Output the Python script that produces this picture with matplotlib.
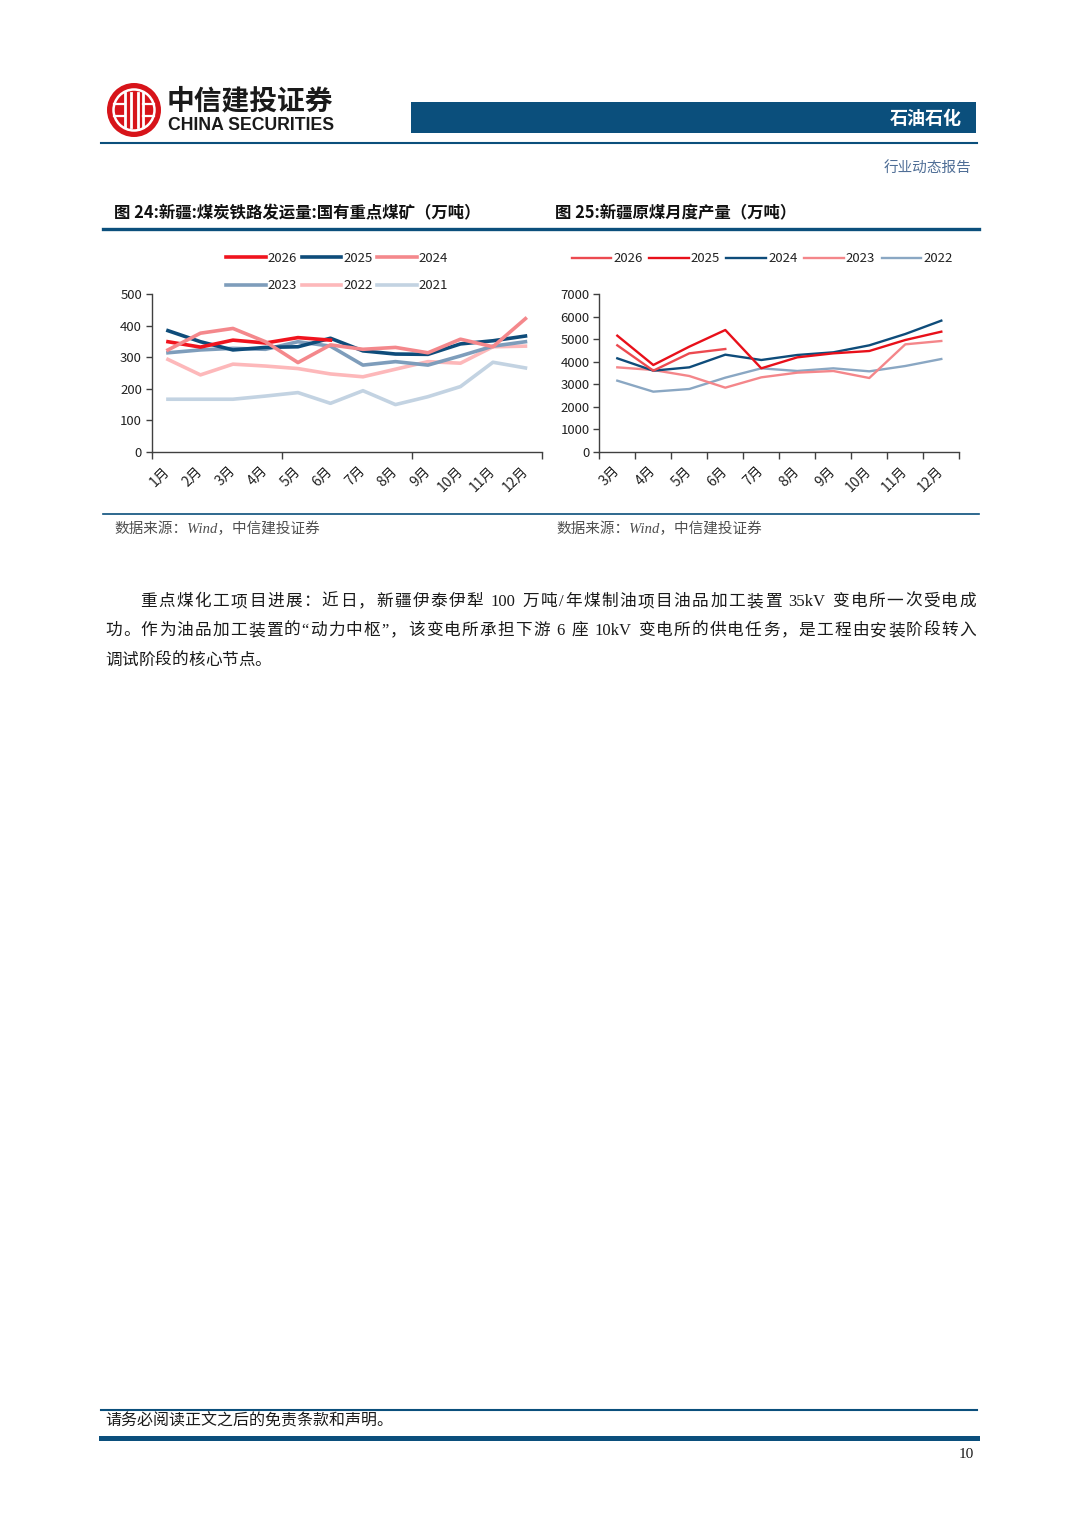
import re
import matplotlib
matplotlib.use("Agg")
import matplotlib.pyplot as plt
from matplotlib.patches import Circle, Rectangle
from matplotlib.lines import Line2D

plt.rcParams['font.family'] = ['Noto Sans CJK SC', 'DejaVu Sans']

# ---- data: fig 24, rail shipments (万吨) ----
months_24 = ['1月', '2月', '3月', '4月', '5月', '6月', '7月', '8月', '9月', '10月', '11月', '12月']
rail_2026 = [349, 332, 354, 345, 362, 354]
rail_2025 = [384, 349, 323, 331, 333, 360, 320, 310, 309, 342, 352, 367]
rail_2024 = [323, 376, 391, 349, 283, 339, 325, 331, 314, 357, 333, 422]
rail_2023 = [314, 323, 328, 325, 349, 335, 275, 286, 275, 304, 335, 349]
rail_2022 = [293, 244, 278, 272, 264, 247, 238, 262, 286, 281, 333, 335]
rail_2021 = [167, 167, 167, 177, 188, 154, 194, 150, 175, 207, 284, 266]

# ---- data: fig 25, raw coal output (万吨) ----
months_25 = ['3月', '4月', '5月', '6月', '7月', '8月', '9月', '10月', '11月', '12月']
coal_2026 = [4726, 3603, 4371, 4563]
coal_2025 = [5154, 3854, 4667, 5405, 3707, 4194, 4371, 4475, 4962, 5331]
coal_2024 = [4150, 3603, 3751, 4312, 4076, 4298, 4416, 4726, 5228, 5819]
coal_2023 = [3751, 3633, 3367, 2850, 3308, 3515, 3589, 3278, 4770, 4918]
coal_2022 = [3160, 2673, 2791, 3293, 3707, 3589, 3707, 3574, 3810, 4120]

NAVY = '#0B4F7C'
SERIF = ['Liberation Serif', 'Noto Sans CJK SC']
W, H = 1080, 1528


def fx(px):
    return px / W


def fy(py):
    return 1 - py / H


fig = plt.figure(figsize=(W / 100, H / 100), dpi=100)
inch = fig.dpi_scale_trans

# ---- page header / logo ----
cx, cy = 134 / 100, (H - 110) / 100
fig.add_artist(Circle((cx, cy), 0.27, transform=inch, facecolor='#D7141A', edgecolor='none'))
fig.add_artist(Circle((cx, cy), 0.205, transform=inch, facecolor='none', edgecolor='white', lw=1.8))
for dx in (-0.09, -0.035, 0.035, 0.09):
    fig.add_artist(Line2D([cx + dx] * 2, [cy - 0.17, cy + 0.17], transform=inch,
                          color='white', lw=2.0))
for dy in (-0.06, 0.06):
    fig.add_artist(Line2D([cx - 0.2, cx - 0.09], [cy + dy] * 2, transform=inch, color='white', lw=1.6))
    fig.add_artist(Line2D([cx + 0.09, cx + 0.2], [cy + dy] * 2, transform=inch, color='white', lw=1.6))
fig.text(fx(167), fy(101), '中信建投证券', fontsize=20, fontweight='bold', color='#1a1a1a',
         va='center', ha='left')
fig.text(fx(168), fy(126), 'CHINA SECURITIES', fontsize=12.7, fontweight='bold', color='#1a1a1a',
         va='center', ha='left', family=['Liberation Sans', 'DejaVu Sans'])
fig.add_artist(Rectangle((fx(411), fy(133)), (976 - 411) / W, 31 / H, transform=fig.transFigure,
                         facecolor=NAVY, edgecolor='none'))
fig.text(fx(962), fy(119), '石油石化', fontsize=13, fontweight='bold', color='white',
         ha='right', va='center')
fig.add_artist(Line2D([fx(101), fx(977)], [fy(143)] * 2, color=NAVY, lw=1.5))
fig.text(fx(971), fy(169), '行业动态报告', fontsize=10.5, color='#4F6E96', ha='right', va='center')

# ---- chart frame ----
fig.text(fx(114), fy(213), '图 24:新疆:煤炭铁路发运量:国有重点煤矿（万吨）', fontsize=11.8,
         fontweight='bold', color='#111111', ha='left', va='center')
fig.text(fx(555), fy(213), '图 25:新疆原煤月度产量（万吨）', fontsize=11.8,
         fontweight='bold', color='#111111', ha='left', va='center')
fig.add_artist(Line2D([fx(103), fx(979)], [fy(229)] * 2, color=NAVY, lw=2.4))
fig.add_artist(Line2D([fx(103), fx(979)], [fy(514)] * 2, color=NAVY, lw=1.2))
for sx in (114, 556):
    fig.text(fx(sx), fy(529), '数据来源：Wind，中信建投证券', fontsize=10.5, color='#505050',
             ha='left', va='center', style='italic', family=SERIF)


def style_axes(ax, n, ymax, ystep, minor_every):
    ax.set_xlim(-0.5, n - 0.5)
    ax.set_ylim(0, ymax)
    ax.set_yticks(range(0, ymax + 1, ystep))
    for s in ('top', 'right'):
        ax.spines[s].set_visible(False)
    for s in ('left', 'bottom'):
        ax.spines[s].set_color('#404040')
        ax.spines[s].set_linewidth(1.0)
    ax.set_xticks([i - 0.5 for i in range(0, n + 1, minor_every)], minor=True)
    ax.tick_params(axis='x', which='major', length=0, pad=12)
    ax.tick_params(axis='x', which='minor', length=5, width=1.0, color='#404040')
    ax.tick_params(axis='y', length=4, width=1.0, color='#404040', labelsize=9.5,
                   labelcolor='#222222', pad=3)
    ax.set_facecolor('none')


# ---- left chart ----
ax1 = fig.add_axes([fx(151.7), fy(452), (541.7 - 151.7) / W, (452 - 294) / H])
x24 = list(range(len(months_24)))
lw1 = 2.6
l21, = ax1.plot(x24, rail_2021, color='#C3D3E2', lw=lw1, label='2021')
l22, = ax1.plot(x24, rail_2022, color='#FDB8BA', lw=lw1, label='2022')
l23, = ax1.plot(x24, rail_2023, color='#7E9DBB', lw=lw1, label='2023')
l25, = ax1.plot(x24, rail_2025, color='#0E4C7A', lw=lw1, label='2025')
l26, = ax1.plot(x24[:len(rail_2026)], rail_2026, color='#F0141E', lw=lw1, label='2026')
l24, = ax1.plot(x24, rail_2024, color='#F4888C', lw=lw1, label='2024')
style_axes(ax1, len(months_24), 500, 100, 4)
ax1.set_xticks(x24)
ax1.set_xticklabels(months_24, rotation=45, ha='right', va='center', rotation_mode='anchor',
                    fontsize=10, color='#222222')
leg1 = ax1.legend([l26, l23, l25, l22, l24, l21], ['2026', '2023', '2025', '2022', '2024', '2021'],
                  ncol=3, loc='center', bbox_to_anchor=(fx(337), fy(272)),
                  bbox_transform=fig.transFigure, frameon=False, fontsize=9.5,
                  handlelength=3.0, handletextpad=0.15, columnspacing=0.35, labelspacing=1.1,
                  borderpad=0)
for t in leg1.get_texts():
    t.set_color('#222222')

# ---- right chart ----
ax2 = fig.add_axes([fx(599.3), fy(452), (959.3 - 599.3) / W, (452 - 294) / H])
x25 = list(range(len(months_25)))
lw2 = 1.7
r22, = ax2.plot(x25, coal_2022, color='#8AA7C3', lw=lw2, label='2022')
r23, = ax2.plot(x25, coal_2023, color='#F4868A', lw=lw2, label='2023')
r24, = ax2.plot(x25, coal_2024, color='#0E4C7A', lw=lw2, label='2024')
r25, = ax2.plot(x25, coal_2025, color='#E8101A', lw=lw2, label='2025')
r26, = ax2.plot(x25[:len(coal_2026)], coal_2026, color='#EC4A50', lw=lw2, label='2026')
style_axes(ax2, len(months_25), 7000, 1000, 1)
ax2.set_xticks(x25)
ax2.set_xticklabels(months_25, rotation=45, ha='right', va='center', rotation_mode='anchor',
                    fontsize=10, color='#222222')
leg2 = ax2.legend([r26, r25, r24, r23, r22], ['2026', '2025', '2024', '2023', '2022'],
                  ncol=5, loc='center', bbox_to_anchor=(fx(762), fy(259)),
                  bbox_transform=fig.transFigure, frameon=False, fontsize=9.5,
                  handlelength=3.0, handletextpad=0.15, columnspacing=0.5, borderpad=0)
for t in leg2.get_texts():
    t.set_color('#222222')


# ---- body text (justified like the report) ----
def put_line(s, x0, x1, y, justify=True, **kw):
    r = fig.canvas.get_renderer()
    toks = re.findall(r'[A-Za-z0-9/]+| |.', s)
    items = []
    for tok in toks:
        t = fig.text(fx(x0), fy(y), tok, ha='left', va='center', **kw)
        w = t.get_window_extent(renderer=r).width if tok != ' ' else 4.0
        items.append((t, w))
    total = sum(w for _, w in items)
    gap = (x1 - x0 - total) / (len(items) - 1) if justify else 0.0
    x = x0
    for t, w in items:
        t.set_x(fx(x))
        x += w + gap


body_kw = dict(fontsize=12, color='#1a1a1a', family=SERIF)
put_line('重点煤化工项目进展：近日，新疆伊泰伊犁 100 万吨/年煤制油项目油品加工装置 35kV 变电所一次受电成',
         140, 976, 602, **body_kw)
put_line('功。作为油品加工装置的“动力中枢”，该变电所承担下游 6 座 10kV 变电所的供电任务，是工程由安装阶段转入',
         105, 976, 631, **body_kw)
put_line('调试阶段的核心节点。', 105, 976, 661, justify=False, **body_kw)

# ---- footer ----
fig.add_artist(Line2D([fx(101), fx(977)], [fy(1410)] * 2, color=NAVY, lw=1.5))
fig.text(fx(105), fy(1421), '请务必阅读正文之后的免责条款和声明。', fontsize=11.5, color='#1a1a1a',
         ha='left', va='center')
fig.add_artist(Line2D([fx(101), fx(977)], [fy(1438)] * 2, color=NAVY, lw=3.6))
fig.text(fx(974), fy(1455), '10', fontsize=11, color='#1a1a1a', ha='right', va='center',
         family=['Liberation Serif', 'DejaVu Serif'])

fig.savefig('out.png', dpi=100)
